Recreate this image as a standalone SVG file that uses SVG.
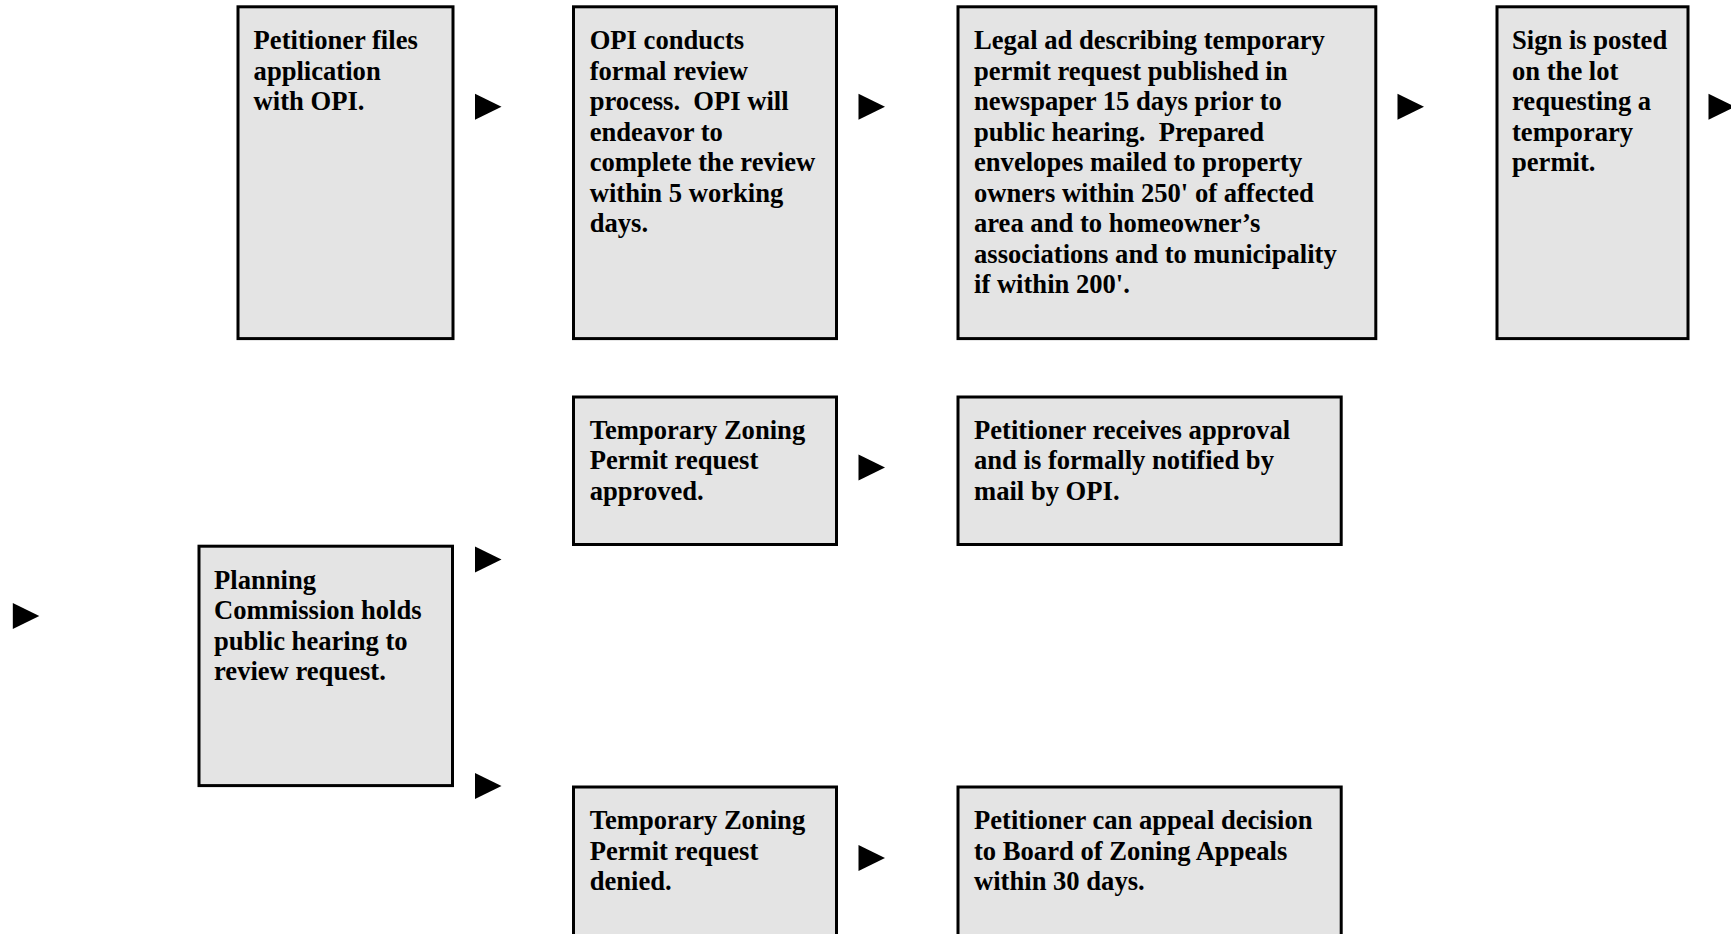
<svg xmlns="http://www.w3.org/2000/svg" xmlns:xlink="http://www.w3.org/1999/xlink" width="1731" height="934" viewBox="0 0 1731 934">
<style>
.box{fill:#e4e4e4;stroke:#000;stroke-width:3}
.t{font-family:"Liberation Serif","Times New Roman",serif;font-weight:bold;font-size:26.6px;fill:#000;white-space:pre}
.arr{fill:#000}
</style>
<defs>
<path id="tri" d="M0,-13 L26.5,0 L0,13 Z"/>
</defs>
<rect width="1731" height="934" fill="#fff"/>
<g id="n1">
<rect class="box" x="238" y="6.8" width="215" height="331.8"/>
<text class="t"><tspan x="253.6" y="49.3">Petitioner files</tspan><tspan x="253.6" y="79.8">application</tspan><tspan x="253.6" y="110.3">with OPI.</tspan></text>
</g>
<g id="n2">
<rect class="box" x="573.5" y="6.8" width="263" height="331.8"/>
<text class="t" xml:space="preserve"><tspan x="589.7" y="49.3">OPI conducts</tspan><tspan x="589.7" y="79.8">formal review</tspan><tspan x="589.7" y="110.3">process.  OPI will</tspan><tspan x="589.7" y="140.8">endeavor to</tspan><tspan x="589.7" y="171.3">complete the review</tspan><tspan x="589.7" y="201.8">within 5 working</tspan><tspan x="589.7" y="232.3">days.</tspan></text>
</g>
<g id="n3">
<rect class="box" x="958" y="6.8" width="417.8" height="331.8"/>
<text class="t" xml:space="preserve"><tspan x="974" y="49.3">Legal ad describing temporary</tspan><tspan x="974" y="79.8">permit request published in</tspan><tspan x="974" y="110.3">newspaper 15 days prior to</tspan><tspan x="974" y="140.8">public hearing.  Prepared</tspan><tspan x="974" y="171.3">envelopes mailed to property</tspan><tspan x="974" y="201.8">owners within 250' of affected</tspan><tspan x="974" y="232.3">area and to homeowner’s</tspan><tspan x="974" y="262.8">associations and to municipality</tspan><tspan x="974" y="293.3">if within 200'.</tspan></text>
</g>
<g id="n4">
<rect class="box" x="1497" y="6.8" width="191" height="331.8"/>
<text class="t"><tspan x="1512" y="49.3">Sign is posted</tspan><tspan x="1512" y="79.8">on the lot</tspan><tspan x="1512" y="110.3">requesting a</tspan><tspan x="1512" y="140.8">temporary</tspan><tspan x="1512" y="171.3">permit.</tspan></text>
</g>
<g id="n5">
<rect class="box" x="199" y="546.2" width="253.5" height="239.4"/>
<text class="t"><tspan x="214" y="588.5">Planning</tspan><tspan x="214" y="619">Commission holds</tspan><tspan x="214" y="649.5">public hearing to</tspan><tspan x="214" y="680">review request.</tspan></text>
</g>
<g id="n6">
<rect class="box" x="573.5" y="397" width="263" height="147.5"/>
<text class="t"><tspan x="589.7" y="438.5">Temporary Zoning</tspan><tspan x="589.7" y="469">Permit request</tspan><tspan x="589.7" y="499.5">approved.</tspan></text>
</g>
<g id="n7">
<rect class="box" x="958" y="397" width="383.2" height="147.5"/>
<text class="t"><tspan x="974" y="438.5">Petitioner receives approval</tspan><tspan x="974" y="469">and is formally notified by</tspan><tspan x="974" y="499.5">mail by OPI.</tspan></text>
</g>
<g id="n8">
<rect class="box" x="573.5" y="787" width="263" height="160"/>
<text class="t"><tspan x="589.7" y="829">Temporary Zoning</tspan><tspan x="589.7" y="859.5">Permit request</tspan><tspan x="589.7" y="890">denied.</tspan></text>
</g>
<g id="n9">
<rect class="box" x="958" y="787" width="383.2" height="160"/>
<text class="t"><tspan x="974" y="829">Petitioner can appeal decision</tspan><tspan x="974" y="859.5">to Board of Zoning Appeals</tspan><tspan x="974" y="890">within 30 days.</tspan></text>
</g>
<g id="connectors" class="arr">
<use xlink:href="#tri" x="475" y="106.7"/>
<use xlink:href="#tri" x="858.5" y="106.7"/>
<use xlink:href="#tri" x="1397.5" y="106.7"/>
<use xlink:href="#tri" x="1708.5" y="106.7"/>
<use xlink:href="#tri" x="12.8" y="616"/>
<use xlink:href="#tri" x="475" y="559.5"/>
<use xlink:href="#tri" x="475" y="786"/>
<use xlink:href="#tri" x="858.5" y="467.5"/>
<use xlink:href="#tri" x="858.5" y="858"/>
</g>
</svg>
